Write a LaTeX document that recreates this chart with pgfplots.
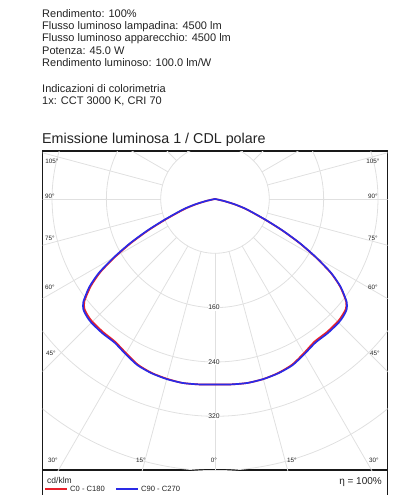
\documentclass[border=0pt]{standalone}
\usepackage{fontspec}
\setmainfont{Liberation Sans}
\usepackage{pgfplots}
\usepackage{pgfplotstable}
\pgfplotsset{compat=1.18}
\definecolor{txt}{HTML}{222222}
\definecolor{gridc}{HTML}{E0E0E0}
\definecolor{cred}{HTML}{E8202A}
\definecolor{cblue}{HTML}{2A2AE6}

% C90 - C270 (blue): signed angle a (negative = left half), intensity I in cd/klm
\pgfplotstableread{
a I
-90 0
-82 0
-80 3
-77.5 14
-75 30
-72.5 46
-70 61
-67.5 82
-65 110
-62.5 141
-60 172
-57.5 203
-55 226
-52 246
-50 253
-47.5 256
-45 257.5
-40 258
-35 258
-30 263.5
-25 270
-20 273
-15 274.5
-10 275
-5 274
0 273
5 274
10 275
15 274.5
20 273
25 270
30 263.5
35 258
40 258
45 257.5
47.5 256
50 253
52 246
55 226
57.5 203
60 172
62.5 141
65 110
67.5 82
70 61
72.5 46
75 30
77.5 14
80 3
82 0
90 0
}\bluetab

% C0 - C180 (red)
\pgfplotstableread{
a I
-90 0
-82 0
-80 2
-77.5 12
-75 27
-72.5 43
-70 58
-67.5 79
-65 107
-62.5 138
-60 169
-57.5 200
-55 223
-52 244
-50 251
-47.5 254
-45 255.5
-40 256
-35 256.5
-30 262
-25 269
-20 272.5
-15 274
-10 275
-5 274
0 273
5 274
10 275
15 274.5
20 272.5
25 269
30 262
35 256
40 256
45 255.5
47.5 254
50 251.5
52 245
55 225
57.5 202
60 171
62.5 140
65 109
67.5 81
70 60
72.5 45
75 29
77.5 13
80 3
82 0
90 0
}\redtab

\begin{document}
\begin{tikzpicture}[x=1pt,y=1pt]
\path[use as bounding box] (0,0) rectangle (404,-495);
% header text
\begin{scope}[every node/.style={anchor=base west, inner sep=0pt, text=txt, font=\fontsize{11}{12}\selectfont}]
\node at (42,-17.5) {Rendimento: 100\%};
\node at (42,-29.5) {Flusso luminoso lampadina: 4500 lm};
\node at (42,-41.5) {Flusso luminoso apparecchio: 4500 lm};
\node at (42,-54.5) {Potenza: 45.0 W};
\node at (42,-66.5) {Rendimento luminoso: 100.0 lm/W};
\node at (42,-92.5) {Indicazioni di colorimetria};
\node at (42,-104) {1x: CCT 3000 K, CRI 70};
\end{scope}
\node[anchor=base west, inner sep=0pt, text=txt, font=\fontsize{14.3}{16}\selectfont] at (42,-143.5) {Emissione luminosa 1 / CDL polare};

\begin{axis}[
  at={(42.5pt,-151pt)}, anchor=north west,
  width=345pt, height=319pt, scale only axis,
  xmin=-254, xmax=254, ymin=-399, ymax=70.7,
  ticks=none,
  axis line style={line width=1.2pt, black!90},
]
% polar grid
\pgfplotsinvokeforeach{54.32pt,108.64pt,162.96pt,217.28pt,271.6pt,325.9pt}{
  \draw[gridc, line width=0.8pt] (axis cs:0,0) circle[radius=#1];
}
\pgfplotsinvokeforeach{0,15,...,345}{
  \draw[gridc, line width=0.8pt] (axis cs:{80*sin(#1)},{-80*cos(#1)}) -- (axis cs:{700*sin(#1)},{-700*cos(#1)});
}
\addplot[cred, line width=1.7pt, smooth, tension=0.4] table[x expr={\thisrow{I}*sin(\thisrow{a})}, y expr={-\thisrow{I}*cos(\thisrow{a})}] {\redtab};
\addplot[cblue, line width=1.7pt, smooth, tension=0.4] table[x expr={\thisrow{I}*sin(\thisrow{a})}, y expr={-\thisrow{I}*cos(\thisrow{a})}] {\bluetab};
\end{axis}

% angle labels
\begin{scope}[every node/.style={inner sep=0pt, text=txt, font=\fontsize{6.3}{7}\selectfont}]
\node at (52,-161) {105°};
\node at (50,-196.5) {90°};
\node at (50,-238) {75°};
\node at (50,-287) {60°};
\node at (51,-353) {45°};
\node at (373,-161) {105°};
\node at (373,-196.5) {90°};
\node at (373,-238) {75°};
\node at (373,-287) {60°};
\node at (375,-353) {45°};
\node at (53,-460) {30°};
\node at (141,-460) {15°};
\node at (214,-460) {0°};
\node at (292,-460) {15°};
\node at (374,-460) {30°};
\end{scope}
% ring labels
\begin{scope}[every node/.style={inner sep=0.6pt, fill=white, text=txt, font=\fontsize{6.8}{7}\selectfont}]
\node at (214,-307.5) {160};
\node at (214,-362) {240};
\node at (214,-416.5) {320};
\end{scope}

% legend box
\draw[line width=1.2pt, black!90] (42.5,-470) -- (42.5,-496) (387.5,-470) -- (387.5,-496);
\node[anchor=base west, inner sep=0pt, text=txt, font=\fontsize{8.5}{9}\selectfont] at (47,-483) {cd/klm};
\draw[cred, line width=2.6pt] (45,-489) -- (67,-489);
\node[anchor=west, inner sep=0pt, text=txt, font=\fontsize{7.6}{8}\selectfont] at (70,-489) {C0 - C180};
\draw[cblue, line width=2.6pt] (116,-489) -- (138,-489);
\node[anchor=west, inner sep=0pt, text=txt, font=\fontsize{7.6}{8}\selectfont] at (141,-489) {C90 - C270};
\node[anchor=base east, inner sep=0pt, text=txt, font=\fontsize{10}{11}\selectfont] at (382,-484) {η = 100\%};
\end{tikzpicture}
\end{document}
